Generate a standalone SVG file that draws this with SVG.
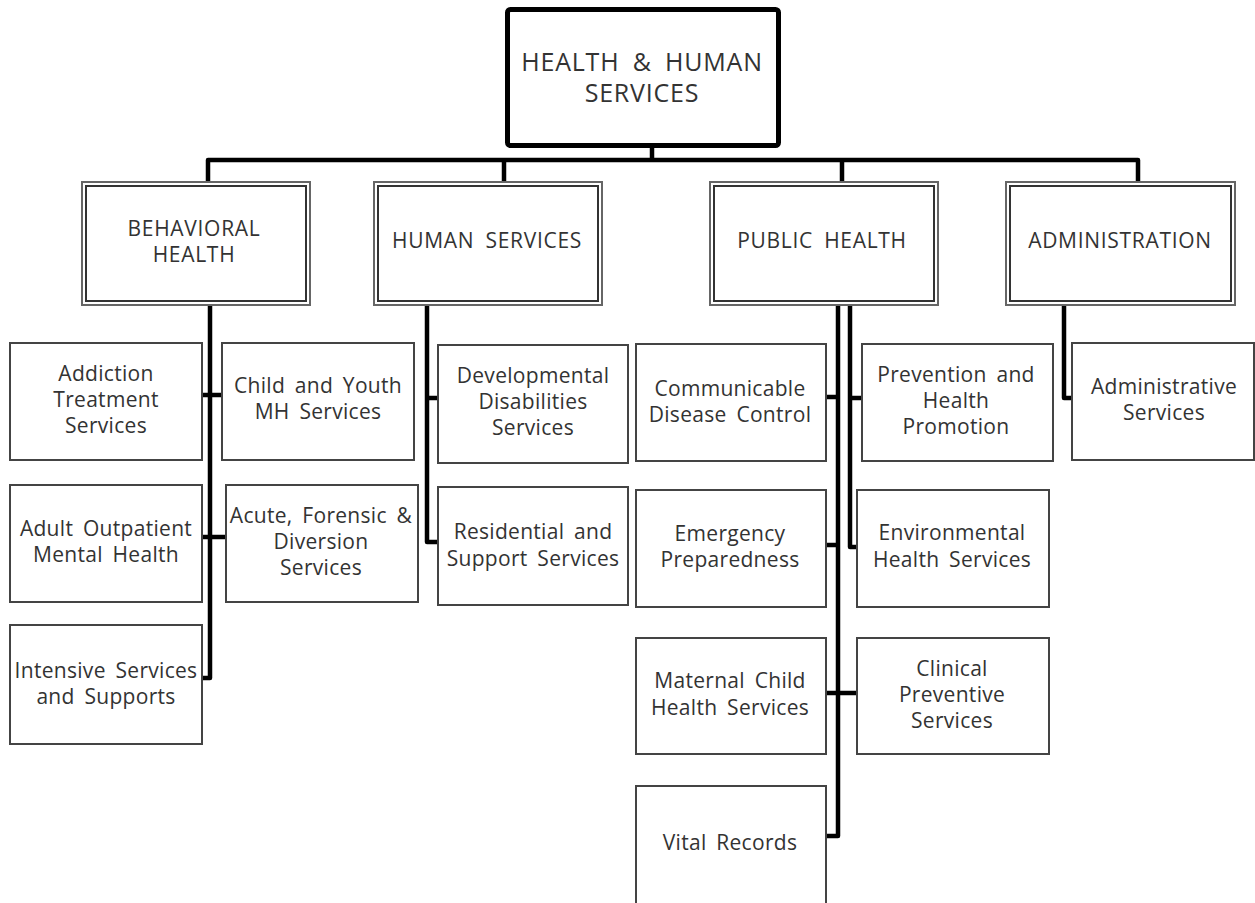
<svg xmlns="http://www.w3.org/2000/svg" width="1255" height="903" viewBox="0 0 1255 903">
<style>
.t{font-family:"Open Sans","Noto Sans","DejaVu Sans",sans-serif;fill:#333;text-anchor:middle;letter-spacing:0.3px;word-spacing:4px}
.top{font-size:25px;letter-spacing:0.8px;word-spacing:6px}
.l2{font-size:21px;letter-spacing:0.7px;word-spacing:5px}
.l3{font-size:21px}
.box{fill:#fff;stroke:#444;stroke-width:2}
.o2{fill:#fff;stroke:#666;stroke-width:2}
.i2{fill:none;stroke:#333;stroke-width:2}
.c{fill:none;stroke:#000;stroke-width:4.5;stroke-linejoin:round}
</style>
<rect width="1255" height="903" fill="#fff"/>
<g id="connectors">
<path class="c" d="M652 145V160"/>
<path class="c" d="M208 182V160H1138V182"/>
<path class="c" d="M504 160V182"/>
<path class="c" d="M842 160V182"/>
<path class="c" d="M210 305V678H202"/>
<path class="c" d="M202 395H222"/>
<path class="c" d="M202 537H226"/>
<path class="c" d="M427 305V542H438"/>
<path class="c" d="M427 398H438"/>
<path class="c" d="M838 305V836H826"/>
<path class="c" d="M826 397H838"/>
<path class="c" d="M826 545H838"/>
<path class="c" d="M826 693H857"/>
<path class="c" d="M850 305V547H857"/>
<path class="c" d="M850 398H862"/>
<path class="c" d="M1064 305V398H1072"/>
</g>
<g id="n-hhs">
<rect x="507.5" y="9.5" width="271" height="136" rx="3" fill="#fff" stroke="#000" stroke-width="5"/>
<text class="t top" x="642" y="71">HEALTH &amp; HUMAN</text>
<text class="t top" x="642" y="102">SERVICES</text>
</g>
<g id="n-bh">
<rect class="o2" x="82" y="182" width="228" height="123"/>
<rect class="i2" x="86" y="186" width="220" height="115"/>
<text class="t l2" x="194" y="236">BEHAVIORAL</text>
<text class="t l2" x="194" y="262">HEALTH</text>
</g>
<g id="n-hs">
<rect class="o2" x="374" y="182" width="228" height="123"/>
<rect class="i2" x="378" y="186" width="220" height="115"/>
<text class="t l2" x="487" y="248">HUMAN SERVICES</text>
</g>
<g id="n-ph">
<rect class="o2" x="710" y="182" width="228" height="123"/>
<rect class="i2" x="714" y="186" width="220" height="115"/>
<text class="t l2" x="822" y="248">PUBLIC HEALTH</text>
</g>
<g id="n-adm">
<rect class="o2" x="1006" y="182" width="229" height="123"/>
<rect class="i2" x="1010" y="186" width="221" height="115"/>
<text class="t l2" x="1120" y="248">ADMINISTRATION</text>
</g>
<g id="n-addiction">
<rect class="box" x="10" y="343" width="192" height="117"/>
<text class="t l3" x="106" y="381">Addiction</text>
<text class="t l3" x="106" y="407">Treatment</text>
<text class="t l3" x="106" y="433">Services</text>
</g>
<g id="n-child">
<rect class="box" x="222" y="343" width="192" height="117"/>
<text class="t l3" x="318" y="393">Child and Youth</text>
<text class="t l3" x="318" y="419">MH Services</text>
</g>
<g id="n-adult">
<rect class="box" x="10" y="485" width="192" height="117"/>
<text class="t l3" x="106" y="536">Adult Outpatient</text>
<text class="t l3" x="106" y="562">Mental Health</text>
</g>
<g id="n-acute">
<rect class="box" x="226" y="485" width="192" height="117"/>
<text class="t l3" x="321" y="523">Acute, Forensic &amp;</text>
<text class="t l3" x="321" y="549">Diversion</text>
<text class="t l3" x="321" y="575">Services</text>
</g>
<g id="n-intensive">
<rect class="box" x="10" y="625" width="192" height="119"/>
<text class="t l3" x="106" y="678">Intensive Services</text>
<text class="t l3" x="106" y="704">and Supports</text>
</g>
<g id="n-dev">
<rect class="box" x="438" y="345" width="190" height="118"/>
<text class="t l3" x="533" y="383">Developmental</text>
<text class="t l3" x="533" y="409">Disabilities</text>
<text class="t l3" x="533" y="435">Services</text>
</g>
<g id="n-res">
<rect class="box" x="438" y="487" width="190" height="118"/>
<text class="t l3" x="533" y="539">Residential and</text>
<text class="t l3" x="533" y="566">Support Services</text>
</g>
<g id="n-comm">
<rect class="box" x="636" y="344" width="190" height="117"/>
<text class="t l3" x="730" y="396">Communicable</text>
<text class="t l3" x="730" y="422">Disease Control</text>
</g>
<g id="n-prev">
<rect class="box" x="862" y="344" width="191" height="117"/>
<text class="t l3" x="956" y="382">Prevention and</text>
<text class="t l3" x="956" y="408">Health</text>
<text class="t l3" x="956" y="434">Promotion</text>
</g>
<g id="n-emerg">
<rect class="box" x="636" y="490" width="190" height="117"/>
<text class="t l3" x="730" y="541">Emergency</text>
<text class="t l3" x="730" y="567">Preparedness</text>
</g>
<g id="n-env">
<rect class="box" x="857" y="490" width="192" height="117"/>
<text class="t l3" x="952" y="540">Environmental</text>
<text class="t l3" x="952" y="567">Health Services</text>
</g>
<g id="n-mat">
<rect class="box" x="636" y="638" width="190" height="116"/>
<text class="t l3" x="730" y="688">Maternal Child</text>
<text class="t l3" x="730" y="715">Health Services</text>
</g>
<g id="n-clin">
<rect class="box" x="857" y="638" width="192" height="116"/>
<text class="t l3" x="952" y="676">Clinical</text>
<text class="t l3" x="952" y="702">Preventive</text>
<text class="t l3" x="952" y="728">Services</text>
</g>
<g id="n-vital">
<rect class="box" x="636" y="786" width="190" height="125"/>
<text class="t l3" x="730" y="850">Vital Records</text>
</g>
<g id="n-admsvc">
<rect class="box" x="1072" y="343" width="182" height="117"/>
<text class="t l3" x="1164" y="394">Administrative</text>
<text class="t l3" x="1164" y="420">Services</text>
</g>
</svg>
